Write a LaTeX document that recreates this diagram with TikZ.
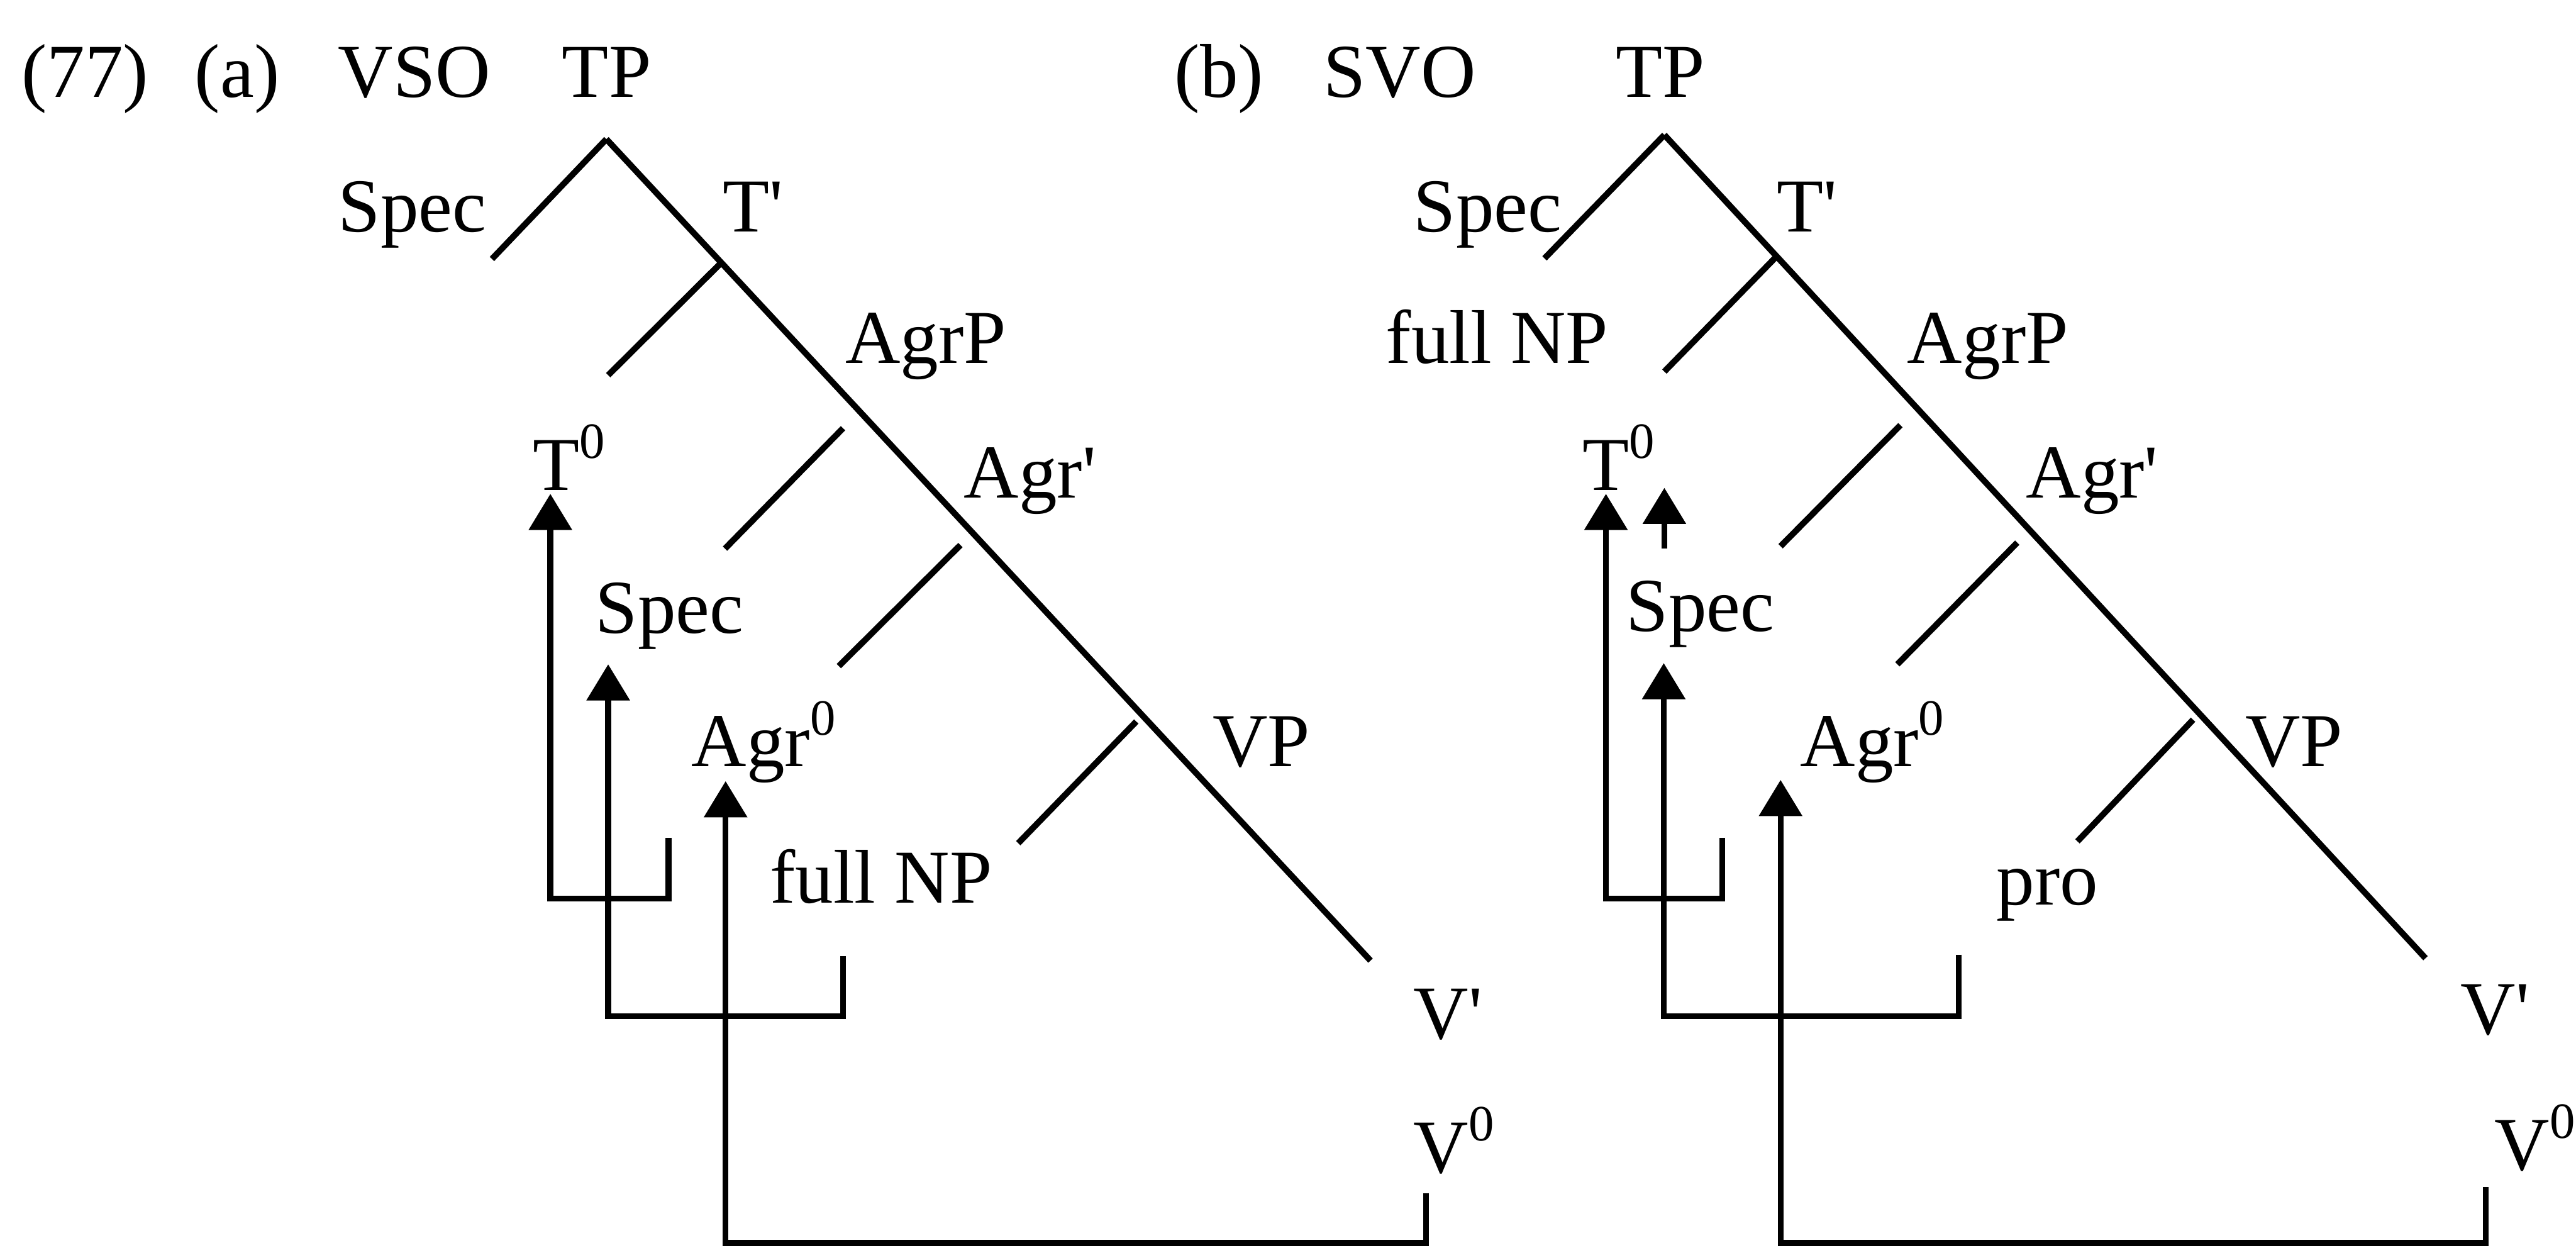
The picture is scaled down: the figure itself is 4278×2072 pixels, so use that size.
\documentclass[tikz,border=0pt]{standalone}
\usepackage{fontspec}
\setmainfont{Liberation Serif}
\usetikzlibrary{positioning, arrows.meta}

\newcommand{\cero}{\raisebox{15pt}{\fontsize{24}{26}\selectfont 0}}
\newcommand{\prima}{\textquotesingle}

\begin{document}
\begin{tikzpicture}[x=0.1mm, y=-0.1mm]
		% Estilos de categorías, ramas y movimientos
		\tikzset{
			cat/.style={
					anchor=base west, inner sep=0pt,
					font=\fontsize{36}{40}\selectfont
				},
			branch/.style={
					draw, line width=2.9pt
				},
			move/.style={
					draw, line width=2.8pt, -{Triangle[length=6mm, width=7mm]}
				}
		}
		\useasboundingbox (0,0) rectangle (4278,2072);

		% Encabezado
		\node[cat] (num) at (35,161) {(77)};
		\node[cat] (pa) at (323,161) {(a)};
		\node[cat] (vso) at (561,161) {VSO};
		\node[cat] (pb) at (1950,161) {(b)};
		\node[cat] (svo) at (2197,161) {SVO};

		% Árbol (a): categorías
		\node[cat] (tpa) at (933,161) {TP};
		\node[cat] (speca) at (561,385) {Spec};
		\node[cat] (tbara) at (1200,385) {T\prima};
		\node[cat] (agrpa) at (1403,603) {AgrP};
		\node[cat] (tza) at (884,814) {T\cero};
		\node[cat] (agrbara) at (1600,827) {Agr\prima};
		\node[cat] (specba) at (988,1051) {Spec};
		\node[cat] (agrza) at (1148,1273) {Agr\cero};
		\node[cat] (vpa) at (2013,1273) {VP};
		\node[cat] (npa) at (1278,1499) {full NP};
		\node[cat] (vbara) at (2347,1725) {V\prima};
		\node[cat] (vza) at (2347,1947) {V\cero};

		% Árbol (b): categorías
		\node[cat] (tpb) at (2683,161) {TP};
		\node[cat] (specb) at (2347,385) {Spec};
		\node[cat] (tbarb) at (2950,385) {T\prima};
		\node[cat] (npb) at (2301,603) {full NP};
		\node[cat] (agrpb) at (3167,603) {AgrP};
		\node[cat] (tzb) at (2628,814) {T\cero};
		\node[cat] (agrbarb) at (3364,827) {Agr\prima};
		\node[cat] (specbb) at (2700,1048) {Spec};
		\node[cat] (agrzb) at (2989,1273) {Agr\cero};
		\node[cat] (vpb) at (3728,1273) {VP};
		\node[cat] (prob) at (3315,1502) {pro};
		\node[cat] (vbarb) at (4086,1718) {V\prima};
		\node[cat] (vzb) at (4142,1943) {V\cero};

		% Puntos de las ramas
		\coordinate (a0) at (1007,231);  \coordinate (a1) at (817,430);   \coordinate (a2) at (2276,1595);
		\coordinate (a3) at (1200,434);  \coordinate (a4) at (1010,623);
		\coordinate (a5) at (1400,711);  \coordinate (a6) at (1204,911);
		\coordinate (a7) at (1595,905);  \coordinate (a8) at (1393,1106);
		\coordinate (a9) at (1887,1198); \coordinate (a10) at (1691,1400);
		\coordinate (b0) at (2764,224);  \coordinate (b1) at (2565,429);  \coordinate (b2) at (4028,1591);
		\coordinate (b3) at (2951,425);  \coordinate (b4) at (2764,617);
		\coordinate (b5) at (3156,706);  \coordinate (b6) at (2957,907);
		\coordinate (b7) at (3350,901);  \coordinate (b8) at (3151,1103);
		\coordinate (b9) at (3642,1195); \coordinate (b10) at (3450,1397);

		\foreach \from/\to in {a0/a1, a0/a2, a3/a4, a5/a6, a7/a8, a9/a10,
				b0/b1, b0/b2, b3/b4, b5/b6, b7/b8, b9/b10} {
				\draw[branch] (\from) -- (\to);
			}

		% Movimientos (a)
		\coordinate (ma1) at (1110,1391); \coordinate (ma2) at (1110,1492);
		\coordinate (ma3) at (914,1492);  \coordinate (ma4) at (914,820);
		\coordinate (mb1) at (1400,1588); \coordinate (mb2) at (1400,1687);
		\coordinate (mb3) at (1010,1687); \coordinate (mb4) at (1010,1103);
		\coordinate (mc1) at (2368,1981); \coordinate (mc2) at (2368,2064);
		\coordinate (mc3) at (1205,2064); \coordinate (mc4) at (1205,1297);

		% Movimientos (b)
		\coordinate (md1) at (2860,1391); \coordinate (md2) at (2860,1492);
		\coordinate (md3) at (2667,1492); \coordinate (md4) at (2667,820);
		\coordinate (me1) at (3253,1585); \coordinate (me2) at (3253,1687);
		\coordinate (me3) at (2763,1687); \coordinate (me4) at (2763,1101);
		\coordinate (mf1) at (4128,1971); \coordinate (mf2) at (4128,2064);
		\coordinate (mf3) at (2957,2064); \coordinate (mf4) at (2957,1295);
		\coordinate (mg1) at (2764,911);  \coordinate (mg2) at (2764,810);

		\foreach \m in {ma, mb, mc, md, me, mf} {
				\draw[move] (\m1) -- (\m2) -- (\m3) -- (\m4);
			}
		\draw[move] (mg1) -- (mg2);
	\end{tikzpicture}
\end{document}
